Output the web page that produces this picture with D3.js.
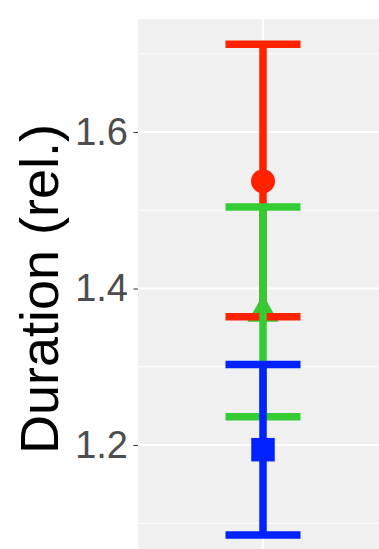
<!DOCTYPE html>
<html>
<head>
<meta charset="utf-8">
<script src="https://cdn.jsdelivr.net/npm/d3@7"></script>
<style>
  html, body { margin: 0; padding: 0; background: #ffffff; }
  svg { display: block; }
</style>
</head>
<body>
<div id="chart"></div>
<script>
// Relative duration per condition: mean with lower/upper interval bounds
const groups = ["cond1", "cond2", "cond3"];
const means  = [1.537, 1.369, 1.194];
const lower  = [1.364, 1.236, 1.085];
const upper  = [1.712, 1.504, 1.303];
const colors = ["#ff2200", "#33cc33", "#0022ff"];
const shapes = ["circle", "triangle", "square"];

const majorTicks = [1.2, 1.4, 1.6];
const minorTicks = [1.1, 1.3, 1.5, 1.7];
const yTitle = "Duration (rel.)";

const W = 379, H = 549;
const panel = { left: 138, top: 19, right: 388, bottom: 560 };

const svg = d3.select("#chart").append("svg")
  .attr("width", W).attr("height", H);

const x = d3.scalePoint().domain(["all"])
  .range([panel.left, panel.right]).padding(0.5);
const y = d3.scaleLinear().domain([1.2, 1.6]).range([445, 132]);

// panel background
svg.append("rect")
  .attr("x", panel.left).attr("y", panel.top)
  .attr("width", panel.right - panel.left)
  .attr("height", panel.bottom - panel.top)
  .attr("fill", "#f0f0f0");

const grid = svg.append("g");
grid.selectAll("line.minor").data(minorTicks).join("line")
  .attr("class", "minor")
  .attr("x1", panel.left).attr("x2", panel.right)
  .attr("y1", d => y(d)).attr("y2", d => y(d))
  .attr("stroke", "#ffffff").attr("stroke-width", 1);
grid.selectAll("line.major").data(majorTicks).join("line")
  .attr("class", "major")
  .attr("x1", panel.left).attr("x2", panel.right)
  .attr("y1", d => y(d)).attr("y2", d => y(d))
  .attr("stroke", "#ffffff").attr("stroke-width", 2);
grid.append("line")
  .attr("x1", x("all")).attr("x2", x("all"))
  .attr("y1", panel.top).attr("y2", panel.bottom)
  .attr("stroke", "#ffffff").attr("stroke-width", 2);

// y axis
const axis = svg.append("g")
  .attr("transform", `translate(${panel.left},0)`)
  .call(d3.axisLeft(y).tickValues(majorTicks).tickSize(4.5).tickPadding(5.5)
    .tickFormat(d3.format(".1f")));
axis.select(".domain").remove();
axis.selectAll(".tick line").attr("stroke", "#333333").attr("stroke-width", 1);
axis.selectAll(".tick text")
  .attr("fill", "#4d4d4d")
  .style("font-family", "'Liberation Sans', Arial, sans-serif")
  .style("font-size", "38px");

// axis title
svg.append("text")
  .attr("transform", `translate(58,289) rotate(-90)`)
  .attr("text-anchor", "middle")
  .style("font-family", "'Liberation Sans', Arial, sans-serif")
  .style("font-size", "54px")
  .attr("fill", "#000000")
  .text(yTitle);

const data = groups.map((g, i) => ({
  g, mean: means[i], lo: lower[i], hi: upper[i], color: colors[i], shape: shapes[i]
}));

const cx = x("all");
const capHalf = 37.5;
const lw = 7.5;

// point markers
const symbolType = { circle: d3.symbolCircle, triangle: d3.symbolTriangle, square: d3.symbolSquare };
const symbolSize = { circle: Math.PI * 12 * 12, triangle: 31 * 31 * Math.sqrt(3) / 4, square: 23.5 * 23.5 };
svg.append("g").selectAll("path").data(data).join("path")
  .attr("transform", d => `translate(${cx},${y(d.mean)})`)
  .attr("d", d => d3.symbol().type(symbolType[d.shape]).size(symbolSize[d.shape])())
  .attr("fill", d => d.color);

// error bars
const bars = svg.append("g").selectAll("g").data(data).join("g");
bars.append("line")
  .attr("x1", cx).attr("x2", cx)
  .attr("y1", d => y(d.lo)).attr("y2", d => y(d.hi))
  .attr("stroke", d => d.color).attr("stroke-width", lw);
bars.append("line")
  .attr("x1", cx - capHalf).attr("x2", cx + capHalf)
  .attr("y1", d => y(d.hi)).attr("y2", d => y(d.hi))
  .attr("stroke", d => d.color).attr("stroke-width", lw);
bars.append("line")
  .attr("x1", cx - capHalf).attr("x2", cx + capHalf)
  .attr("y1", d => y(d.lo)).attr("y2", d => y(d.lo))
  .attr("stroke", d => d.color).attr("stroke-width", lw);
</script>
</body>
</html>
